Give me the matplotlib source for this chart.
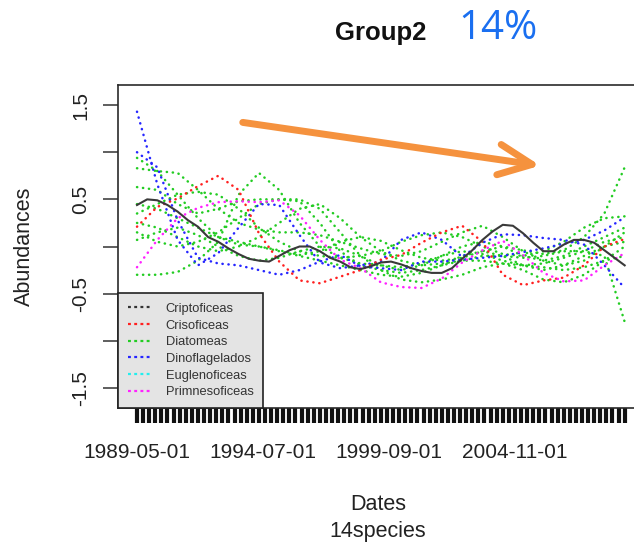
import matplotlib
matplotlib.use('Agg')
import matplotlib.pyplot as plt
from matplotlib.lines import Line2D
from matplotlib.patches import FancyArrowPatch

plt.rcParams['font.family'] = ['Liberation Sans', 'DejaVu Sans']

# ---------------- data ----------------
# months since 1989-05-01 (sampling every 10 months)
months = [0, 10, 20, 30, 40, 50, 60, 70, 80, 90, 100, 110, 120,
          130, 140, 150, 160, 170, 180, 190, 200, 210, 220, 230, 240]
# finer sampling (every 5 months) for the solid Criptoficeas line
months_fine = list(range(0, 241, 5))
tick_months = [0, 62, 124, 186]
tick_labels = ['1989-05-01', '1994-07-01', '1999-09-01', '2004-11-01']
ytick_vals = [1.5, 1.0, 0.5, 0.0, -0.5, -1.0, -1.5]
ytick_labels = ['1.5', '', '0.5', '', '-0.5', '', '-1.5']

criptoficeas = [0.44, 0.50, 0.49, 0.44, 0.37, 0.28, 0.21, 0.10, 0.05, -0.02, -0.08, -0.13, -0.15,
                -0.16, -0.10, -0.04, 0.00, 0.00, -0.05, -0.12, -0.16, -0.22, -0.24, -0.21, -0.17,
                -0.16, -0.19, -0.23, -0.26, -0.28, -0.28, -0.23, -0.13, -0.04, 0.07, 0.16, 0.23,
                0.22, 0.14, 0.04, -0.05, -0.05, 0.02, 0.07, 0.07, 0.04, -0.04, -0.12, -0.20]
crisoficeas = [0.21, 0.42, 0.51, 0.64, 0.75, 0.60, 0.14, -0.16, -0.36, -0.39, -0.32, -0.25, -0.14,
               -0.09, 0.04, 0.15, 0.22, 0.05, -0.30, -0.41, -0.36, -0.33, -0.20, 0.00, 0.08]
dino_1 = [1.43, 0.66, 0.07, -0.20, -0.07, 0.20, 0.45, 0.44, 0.12, -0.17, -0.23, -0.20, -0.16,
          0.07, 0.15, 0.07, -0.11, 0.04, 0.13, 0.12, 0.09, 0.07, 0.02, -0.20, -0.44]
dino_2 = [1.00, 0.84, 0.28, -0.12, -0.18, -0.20, -0.25, -0.30, -0.25, -0.16, -0.09, -0.21, -0.23,
          -0.25, -0.16, -0.16, -0.14, -0.12, -0.10, -0.06, -0.02, 0.03, 0.07, 0.17, 0.31]
primnesoficeas = [-0.22, 0.07, 0.30, 0.41, 0.47, 0.48, 0.47, 0.49, 0.33, 0.07, -0.14, -0.23, -0.38,
                  -0.43, -0.44, -0.34, -0.17, -0.04, 0.06, -0.09, -0.28, -0.37, -0.36, -0.20, -0.07]
diat_a = [-0.30, -0.30, -0.27, -0.15, 0.05, 0.55, 0.78, 0.60, 0.25, 0.00, -0.12, -0.18, -0.20,
          -0.22, -0.18, -0.10, -0.05, -0.08, -0.15, -0.20, -0.18, -0.12, -0.05, 0.05, 0.10]
diat_b = [0.94, 0.80, 0.55, 0.30, 0.10, 0.02, 0.00, -0.04, -0.09, -0.05, 0.05, 0.10, 0.06,
          -0.04, -0.12, -0.15, -0.12, -0.05, 0.00, -0.04, -0.08, -0.04, 0.10, 0.35, 0.84]
diat_c = [0.83, 0.80, 0.78, 0.60, 0.40, 0.25, 0.18, 0.15, 0.15, 0.12, 0.05, -0.02, -0.08,
          -0.10, -0.05, 0.05, 0.15, 0.22, 0.10, -0.05, -0.15, -0.20, -0.15, 0.00, 0.15]
diat_d = [0.63, 0.60, 0.45, 0.35, 0.40, 0.48, 0.50, 0.50, 0.48, 0.25, -0.05, -0.20, -0.25,
          -0.28, -0.25, -0.20, -0.15, -0.10, -0.10, -0.12, -0.10, -0.05, -0.05, -0.10, -0.80]
diat_e = [0.35, 0.45, 0.55, 0.58, 0.55, 0.40, 0.20, 0.05, -0.05, -0.10, -0.12, -0.10, -0.05,
          0.05, 0.12, 0.15, 0.10, 0.00, -0.08, -0.10, -0.05, 0.05, 0.20, 0.30, 0.32]
diat_f = [0.25, 0.20, 0.10, 0.00, -0.05, 0.00, 0.10, 0.25, 0.40, 0.45, 0.30, 0.10, -0.05,
          -0.15, -0.20, -0.18, -0.15, -0.15, -0.18, -0.20, -0.22, -0.25, -0.22, -0.15, -0.10]
diat_g = [0.15, 0.05, 0.00, 0.05, 0.15, 0.30, 0.45, 0.50, 0.50, 0.40, 0.15, -0.10, -0.25,
          -0.35, -0.38, -0.35, -0.30, -0.22, -0.18, -0.25, -0.35, -0.38, -0.30, -0.15, 0.00]
diat_h = [0.07, 0.15, 0.20, 0.12, 0.00, -0.10, -0.15, -0.12, -0.05, 0.00, -0.02, -0.10, -0.20,
          -0.25, -0.20, -0.10, 0.00, 0.05, 0.00, -0.10, -0.15, -0.10, 0.00, 0.10, 0.20]
diat_i = [0.45, 0.40, 0.30, 0.20, 0.10, 0.05, 0.00, -0.05, -0.10, -0.15, -0.20, -0.25, -0.30,
          -0.32, -0.28, -0.20, -0.10, -0.05, -0.10, -0.20, -0.25, -0.20, -0.10, 0.00, 0.05]

diatomeas = [diat_a, diat_b, diat_c, diat_d, diat_e, diat_f, diat_g, diat_h, diat_i]
dinoflagelados = [dino_1, dino_2]

groups = ['Criptoficeas', 'Crisoficeas', 'Diatomeas', 'Dinoflagelados', 'Euglenoficeas', 'Primnesoficeas']
colors = ['#333333', '#ff2020', '#22cc22', '#2626ff', '#22eeee', '#ff22ff']

# ---------------- layout ----------------
W, H = 634, 547
fig = plt.figure(figsize=(W / 100, H / 100), dpi=100)

def fx(p):
    return p / W

def fy(p):
    return 1 - p / H

L, R, T, B = 118, 640, 85, 408
ax = fig.add_axes([fx(L), fy(B), (R - L) / W, (B - T) / H])

px_per_month = 2.032
x0 = 137
ax.set_xlim((L - x0) / px_per_month, (R - x0) / px_per_month)
ax.set_ylim(-1.713, 1.713)

dot = (0, (0.1, 2.3))
lw_dot = 1.8

def dotted(y, c, z=2):
    ax.plot(months, y, color=c, linestyle=dot, lw=lw_dot, dash_capstyle='round', zorder=z)

for s in diatomeas:
    dotted(s, colors[2])
for s in dinoflagelados:
    dotted(s, colors[3], 3)
dotted(crisoficeas, colors[1], 3)
dotted(primnesoficeas, colors[5], 3)
ax.plot(months_fine, criptoficeas, color='#3a3a3a', lw=1.5, zorder=4, solid_joinstyle='round')

# axes styling
for sp in ax.spines.values():
    sp.set_color('#2a2a2a')
    sp.set_linewidth(1.2)
ax.xaxis.remove_overlapping_locs = False
ax.set_xticks(tick_months)
ax.set_xticklabels(tick_labels, fontsize=15, color='#222222')
ax.set_xticks(list(range(0, 243, 3)), minor=True)
ax.tick_params(axis='x', which='minor', direction='out', length=11, width=3.0, color='#111111')
ax.tick_params(axis='x', which='major', direction='out', length=11, width=0, pad=14)
ax.set_yticks(ytick_vals)
ax.set_yticklabels(ytick_labels, fontsize=15, color='#222222', rotation=90, va='center')
ax.tick_params(axis='y', direction='out', length=11, width=1.1, color='#333333', pad=9)

# legend
handles = [Line2D([], [], color=c, linestyle=(0, (1.3, 1.5)), lw=1.6) for c in colors]
leg = ax.legend(handles, groups, loc='lower left', bbox_to_anchor=(0, 0), borderaxespad=0,
                fontsize=9.3, handlelength=1.9, handletextpad=1.05, borderpad=0.75,
                labelspacing=0.36, fancybox=False, framealpha=1, facecolor='#e4e4e4',
                edgecolor='#222222')
leg.get_frame().set_linewidth(1.2)
for t in leg.get_texts():
    t.set_color('#333333')
leg.set_zorder(10)

# titles and labels
fig.text(fx(381), fy(40), 'Group2', ha='center', va='baseline', fontsize=18.5, fontweight='bold', color='#111111')
fig.text(fx(498), fy(39), '14%', ha='center', va='baseline', fontsize=29, family='Open Sans', color='#1a6ff0')
fig.text(fx(24), fy(246), 'Abundances', ha='center', va='center', rotation=90, fontsize=15.5, color='#222222')
fig.text(fx(378), fy(505), 'Dates', ha='center', va='center', fontsize=15.5, color='#222222')
fig.text(fx(378), fy(531), '14species', ha='center', va='center', fontsize=15.5, color='#222222')

# orange annotation arrow
arrow = FancyArrowPatch((240, H - 122), (543, H - 166), transform=None,
                        arrowstyle='->,head_length=24,head_width=11', mutation_scale=1,
                        color='#f5923e', lw=5, capstyle='round', joinstyle='round', zorder=20)
fig.patches.append(arrow)

fig.savefig('out.png', dpi=100)
